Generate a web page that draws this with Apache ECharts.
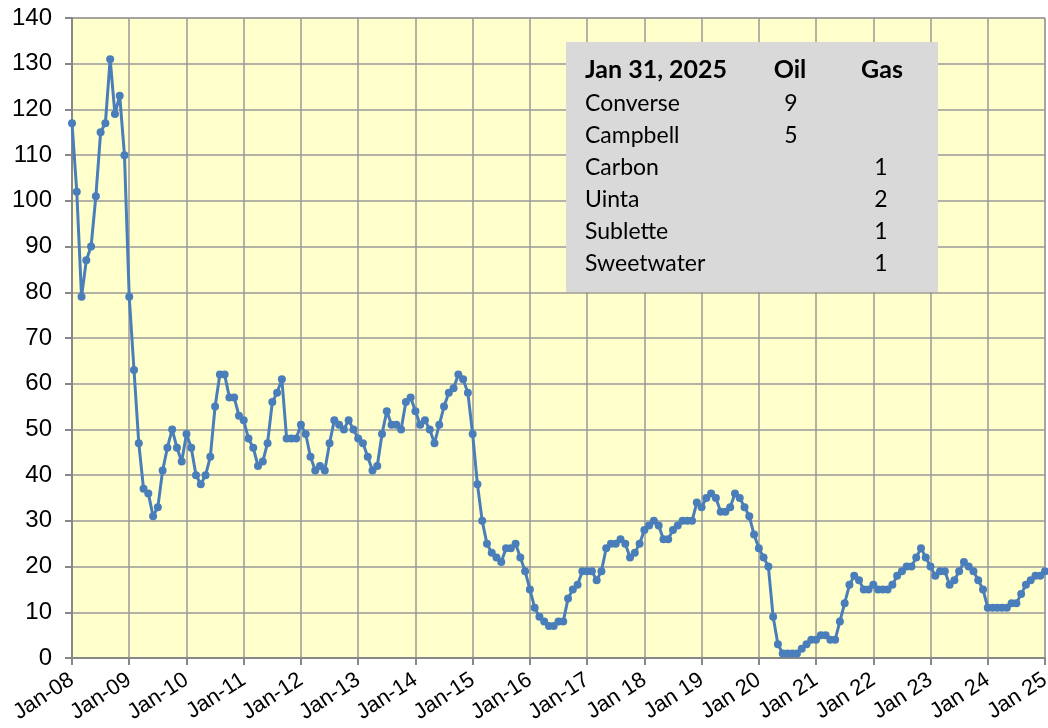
<!DOCTYPE html>
<html>
<head>
<meta charset="utf-8">
<script src="https://cdn.jsdelivr.net/npm/echarts@6/dist/echarts.min.js"></script>
<style>
  html, body { margin: 0; padding: 0; background: #fff; }
  #chart { width: 1048px; height: 728px; }
</style>
</head>
<body>
<div id="chart"></div>
<script>
// monthly rig count, Jan 2008 .. Jan 2025
var counts2008 = [117, 102, 79, 87, 90, 101, 115, 117, 131, 119, 123, 110];
var counts2009 = [79, 63, 47, 37, 36, 31, 33, 41, 46, 50, 46, 43];
var counts2010 = [49, 46, 40, 38, 40, 44, 55, 62, 62, 57, 57, 53];
var counts2011 = [52, 48, 46, 42, 43, 47, 56, 58, 61, 48, 48, 48];
var counts2012 = [51, 49, 44, 41, 42, 41, 47, 52, 51, 50, 52, 50];
var counts2013 = [48, 47, 44, 41, 42, 49, 54, 51, 51, 50, 56, 57];
var counts2014 = [54, 51, 52, 50, 47, 51, 55, 58, 59, 62, 61, 58];
var counts2015 = [49, 38, 30, 25, 23, 22, 21, 24, 24, 25, 22, 19];
var counts2016 = [15, 11, 9, 8, 7, 7, 8, 8, 13, 15, 16, 19];
var counts2017 = [19, 19, 17, 19, 24, 25, 25, 26, 25, 22, 23, 25];
var counts2018 = [28, 29, 30, 29, 26, 26, 28, 29, 30, 30, 30, 34];
var counts2019 = [33, 35, 36, 35, 32, 32, 33, 36, 35, 33, 31, 27];
var counts2020 = [24, 22, 20, 9, 3, 1, 1, 1, 1, 2, 3, 4];
var counts2021 = [4, 5, 5, 4, 4, 8, 12, 16, 18, 17, 15, 15];
var counts2022 = [16, 15, 15, 15, 16, 18, 19, 20, 20, 22, 24, 22];
var counts2023 = [20, 18, 19, 19, 16, 17, 19, 21, 20, 19, 17, 15];
var counts2024 = [11, 11, 11, 11, 11, 12, 12, 14, 16, 17, 18, 18];
var counts2025 = [19];

var yearLabels = ['Jan-08', 'Jan-09', 'Jan-10', 'Jan-11', 'Jan-12', 'Jan-13', 'Jan-14',
  'Jan-15', 'Jan-16', 'Jan-17', 'Jan 18', 'Jan 19', 'Jan 20', 'Jan 21', 'Jan 22',
  'Jan 23', 'Jan 24', 'Jan 25'];

// table in the box
var tableDate = 'Jan 31, 2025';
var counties = ['Converse', 'Campbell', 'Carbon', 'Uinta', 'Sublette', 'Sweetwater'];
var oilRigs = ['9', '5', '', '', '', ''];
var gasRigs = ['', '', '1', '2', '1', '1'];

var values = [].concat(counts2008, counts2009, counts2010, counts2011, counts2012,
  counts2013, counts2014, counts2015, counts2016, counts2017, counts2018, counts2019,
  counts2020, counts2021, counts2022, counts2023, counts2024, counts2025);

var months = [];
for (var i = 0; i < values.length; i++) {
  months.push(i % 12 === 0 ? yearLabels[i / 12] : 'm' + i);
}
function isJan(idx) { return idx % 12 === 0; }

var tableTexts = [];
var rowY = 70;
tableTexts.push({ type: 'text', x: 585, y: rowY, style: { text: tableDate, font: 'bold 25px Lato', fill: '#000', verticalAlign: 'middle' } });
tableTexts.push({ type: 'text', x: 790, y: rowY, style: { text: 'Oil', font: 'bold 25px Lato', fill: '#000', align: 'center', verticalAlign: 'middle' } });
tableTexts.push({ type: 'text', x: 882, y: rowY, style: { text: 'Gas', font: 'bold 25px Lato', fill: '#000', align: 'center', verticalAlign: 'middle' } });
counties.forEach(function (name, k) {
  var y = 104 + k * 32;
  tableTexts.push({ type: 'text', x: 585, y: y, style: { text: name, font: '23px Lato', fill: '#000', verticalAlign: 'middle' } });
  tableTexts.push({ type: 'text', x: 791, y: y, style: { text: oilRigs[k], font: '23px Lato', fill: '#000', align: 'center', verticalAlign: 'middle' } });
  tableTexts.push({ type: 'text', x: 881, y: y, style: { text: gasRigs[k], font: '23px Lato', fill: '#000', align: 'center', verticalAlign: 'middle' } });
});

var myChart = echarts.init(document.getElementById('chart'));

var option = {
  animation: false,
  backgroundColor: '#fff',
  grid: {
    left: 72, right: 3, top: 18, bottom: 70,
    containLabel: false,
    outerBoundsMode: 'none',
    show: true,
    backgroundColor: '#FFFFCC',
    borderColor: '#999',
    borderWidth: 1
  },
  xAxis: {
    type: 'category',
    data: months,
    boundaryGap: false,
    axisLine: { lineStyle: { color: '#888', width: 2 } },
    axisTick: { interval: function (idx) { return isJan(idx); }, length: 7, lineStyle: { color: '#888', width: 2 } },
    axisLabel: {
      interval: function (idx) { return isJan(idx); },
      rotate: 33,
      margin: 20,
      color: '#000',
      fontFamily: 'Liberation Sans',
      fontSize: 22
    },
    splitLine: {
      show: true,
      interval: function (idx) { return isJan(idx); },
      lineStyle: { color: '#999', width: 1.5 }
    }
  },
  yAxis: {
    type: 'value',
    min: 0, max: 140, interval: 10,
    axisLine: { show: true, lineStyle: { color: '#888', width: 2 } },
    axisTick: { show: true, length: 7, lineStyle: { color: '#888', width: 2 } },
    axisLabel: { margin: 20, color: '#000', fontFamily: 'Liberation Sans', fontSize: 24 },
    splitLine: { lineStyle: { color: '#999', width: 1.5 } }
  },
  series: [{
    type: 'line',
    data: values,
    symbol: 'circle',
    symbolSize: 8,
    showAllSymbol: true,
    color: '#4A7EBB',
    lineStyle: { width: 3, color: '#4A7EBB' },
    itemStyle: { color: '#4A7EBB' }
  }],
  graphic: [{
    type: 'group',
    children: [{
      type: 'rect',
      shape: { x: 566, y: 42, width: 372, height: 250 },
      style: { fill: '#D9D9D9' },
      z: 10
    }].concat(tableTexts.map(function (t) { t.z = 11; return t; }))
  }]
};

myChart.setOption(option);
</script>
</body>
</html>
